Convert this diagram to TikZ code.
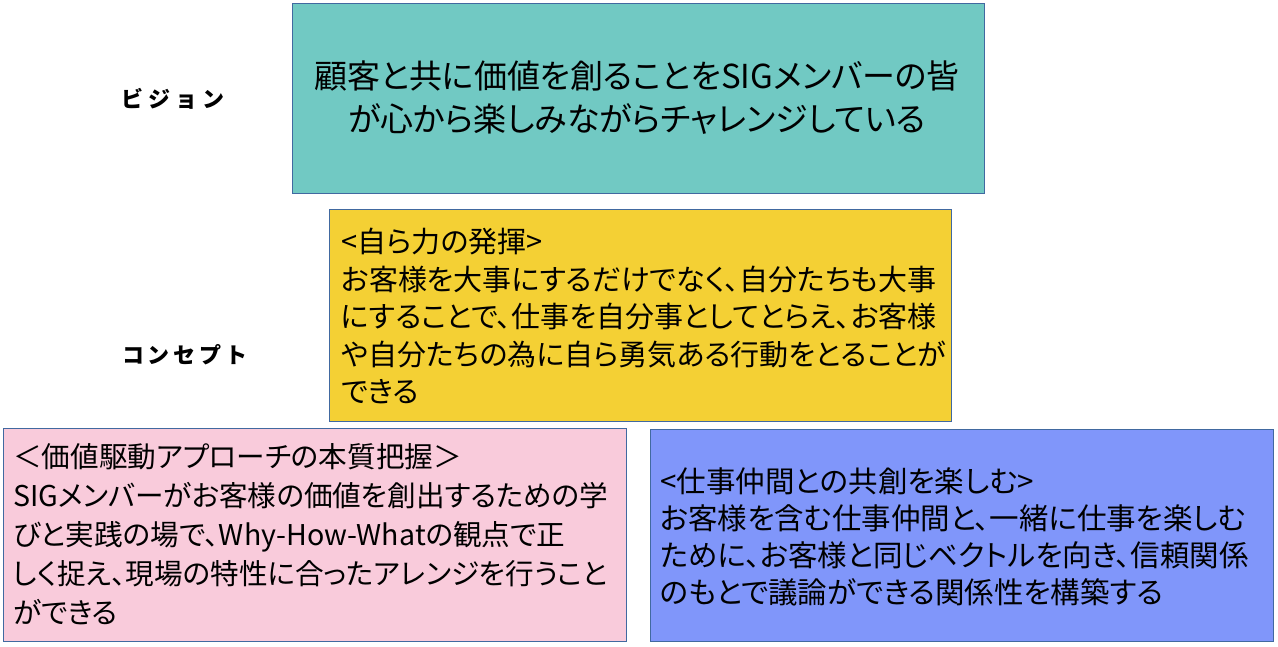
\documentclass[tikz,border=0pt]{standalone}
\usepackage{fontspec}
\setmainfont{Noto Sans CJK JP}[RawFeature=+palt]
\newfontfamily\labelfont{Noto Sans CJK JP}
\definecolor{tealbox}{RGB}{113,201,195}
\definecolor{yellowbox}{RGB}{244,208,52}
\definecolor{pinkbox}{RGB}{249,203,219}
\definecolor{bluebox}{RGB}{128,150,250}
\definecolor{bordercol}{RGB}{65,105,160}
\begin{document}
\begin{tikzpicture}[x=1pt,y=-1pt,
  box/.style={draw=bordercol, line width=1pt, anchor=north west, inner sep=0pt},
  bodytext/.style={anchor=north west, inner sep=0pt, align=left, text=black},
  sidelabel/.style={inner sep=0pt, font=\labelfont\bfseries\fontsize{22}{26}\selectfont}]
\useasboundingbox (0,0) rectangle (1278,646);
\node[box, fill=tealbox, minimum width=692pt, minimum height=190pt] (vision) at (292,3) {};
\node[box, fill=yellowbox, minimum width=622pt, minimum height=212pt] (concept) at (329,209) {};
\node[box, fill=pinkbox, minimum width=623pt, minimum height=213pt] (value) at (3,428) {};
\node[box, fill=bluebox, minimum width=623pt, minimum height=212pt] (cocreate) at (650,429) {};

\node[inner sep=0pt, align=center, font=\fontsize{33}{43}\selectfont] (visiontext) at (637,98)
  {顧客と共に価値を創ることをSIGメンバーの皆\\が心から楽しみながらチャレンジしている};

\node[bodytext, font=\fontsize{29}{37.5}\selectfont] (concepttext) at (341,228)
  {<自ら力の発揮>\\お客様を大事にするだけでなく、自分たちも大事\\にすることで、仕事を自分事としてとらえ、お客様\\や自分たちの為に自ら勇気ある行動をとることが\\できる};

\node[bodytext, font=\fontsize{28.6}{39}\selectfont] (valuetext) at (13,443)
  {＜価値駆動アプローチの本質把握＞\\SIGメンバーがお客様の価値を創出するための学\\びと実践の場で、Why-How-Whatの観点で正\\しく捉え、現場の特性に合ったアレンジを行うこと\\ができる};

\node[bodytext, font=\fontsize{29.5}{37.3}\selectfont] (cocreatetext) at (660,467)
  {<仕事仲間との共創を楽しむ>\\お客様を含む仕事仲間と、一緒に仕事を楽しむ\\ために、お客様と同じベクトルを向き、信頼関係\\のもとで議論ができる関係性を構築する};

\node[sidelabel] (visionlabel) at (173,99) {ビ\hspace{5pt}ジ\hspace{5pt}ョ\hspace{5pt}ン};
\node[sidelabel] (conceptlabel) at (185,355) {コ\hspace{4pt}ン\hspace{4pt}セ\hspace{4pt}プ\hspace{4pt}ト};
\end{tikzpicture}
\end{document}
